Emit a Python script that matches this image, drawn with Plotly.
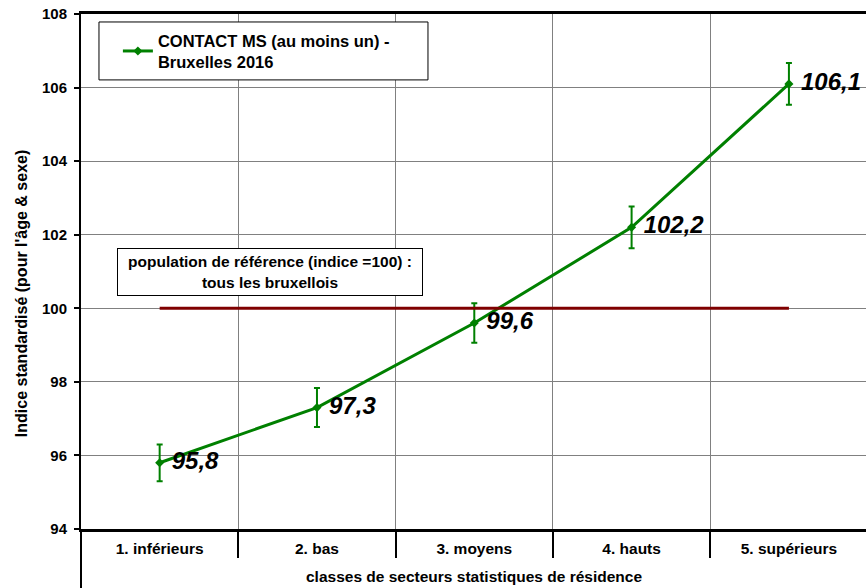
import plotly.graph_objects as go

# Data
categories = ["1. inférieurs", "2. bas", "3. moyens", "4. hauts", "5. supérieurs"]
index_values = [95.8, 97.3, 99.6, 102.2, 106.1]
error_values = [0.50, 0.53, 0.54, 0.57, 0.57]
reference_values = [100, 100, 100, 100, 100]
y_ticks = [94, 96, 98, 100, 102, 104, 106, 108]

GREEN = "#008000"
DARK_RED = "#7f0000"
FONT = "Liberation Sans, Arial, sans-serif"

fig = go.Figure()

# Main series with confidence intervals
fig.add_trace(go.Scatter(
    x=categories,
    y=index_values,
    mode="lines+markers+text",
    name="CONTACT MS (au moins un) -<br>Bruxelles 2016",
    line=dict(color=GREEN, width=3),
    marker=dict(symbol="diamond", size=7, color=GREEN),
    error_y=dict(type="data", array=error_values, color=GREEN, thickness=2, width=3),
    texttemplate=" %{y:.1f}",
    textposition="middle right",
    textfont=dict(family=FONT, size=24, color="black", weight="bold", style="italic"),
))

# Reference population line (index = 100), drawn on the overlay axis
fig.add_trace(go.Scatter(
    x=categories,
    y=reference_values,
    mode="lines",
    line=dict(color=DARK_RED, width=3),
    xaxis="x2",
    showlegend=False,
    hoverinfo="skip",
))

fig.update_layout(
    width=866,
    height=588,
    margin=dict(l=81, r=0, t=14, b=59),
    paper_bgcolor="white",
    plot_bgcolor="white",
    separators=", ",
    font=dict(family=FONT, color="black"),
    showlegend=True,
    legend=dict(
        x=0.047, y=0.9825, xanchor="left", yanchor="top",
        bgcolor="rgba(0,0,0,0)", borderwidth=0,
        font=dict(family=FONT, size=16.5, color="black", weight="bold"),
        itemwidth=30,
    ),
    xaxis=dict(
        type="category",
        categoryorder="array",
        categoryarray=categories,
        range=[-0.5, 4.49],
        showgrid=False,
        ticks="",
        ticklabelstandoff=3,
        tickfont=dict(family=FONT, size=15.5, color="black", weight="bold"),
        showline=True, linecolor="black", linewidth=3, mirror=True,
        zeroline=False,
    ),
    xaxis2=dict(
        type="category",
        categoryorder="array",
        categoryarray=categories,
        range=[-0.5, 4.49],
        overlaying="x",
        side="bottom",
        anchor="y",
        tickson="boundaries",
        ticks="outside",
        ticklen=28,
        tickwidth=2,
        tickcolor="black",
        showticklabels=False,
        showgrid=True,
        gridcolor="#808080",
        gridwidth=1,
        showline=False,
        zeroline=False,
    ),
    yaxis=dict(
        range=[94, 108],
        tickvals=y_ticks,
        ticks="outside",
        ticklen=5,
        tickwidth=2,
        tickcolor="black",
        ticklabelstandoff=4,
        tickfont=dict(family=FONT, size=15, color="black", weight="bold"),
        showgrid=True,
        gridcolor="#808080",
        gridwidth=1,
        showline=True, linecolor="black", linewidth=2,
        zeroline=False,
    ),
)

# Legend frame (wider than plotly's own legend box)
fig.add_shape(type="rect", xref="paper", yref="paper",
              x0=0.0229, x1=0.442, y0=0.872, y1=0.9845,
              line=dict(color="black", width=1), fillcolor="white", layer="above")

# Left axis line continues down past the category labels
fig.add_shape(type="line", xref="paper", yref="paper",
              x0=0, x1=0, y0=0, y1=-0.12,
              line=dict(color="black", width=2))

# Axis titles
fig.add_annotation(
    text="Indice standardisé (pour l'âge & sexe)",
    xref="paper", yref="paper", x=-0.0764, y=0.456,
    textangle=-90, showarrow=False, xanchor="center", yanchor="middle",
    font=dict(family=FONT, size=16, color="black", weight="bold"),
)
fig.add_annotation(
    text="classes de secteurs statistiques de résidence",
    xref="paper", yref="paper", x=0.5, y=-0.093,
    showarrow=False, xanchor="center", yanchor="middle",
    font=dict(family=FONT, size=15.5, color="black", weight="bold"),
)

# Reference population note
fig.add_annotation(
    text="population de référence (indice =100) :<br>tous les bruxellois",
    xref="paper", yref="paper", x=0.0459, y=0.499,
    xanchor="left", yanchor="middle",
    showarrow=False, align="center",
    width=302, height=44,
    bgcolor="white", bordercolor="black", borderwidth=1,
    font=dict(family=FONT, size=15.5, color="black", weight="bold"),
)

fig.write_html(
    "out.html",
    config={"displayModeBar": False},
    post_script="document.body.style.margin='0';document.body.style.overflow='hidden';",
)
